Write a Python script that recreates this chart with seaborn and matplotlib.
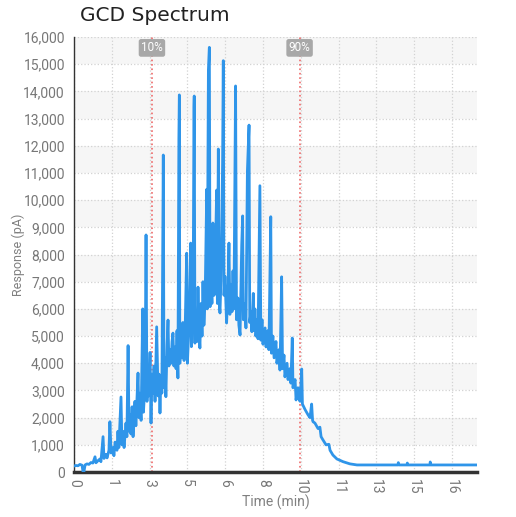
import numpy as np
import pandas as pd
import matplotlib
matplotlib.use("Agg")
import matplotlib.pyplot as plt
import seaborn as sns

# GCD trace (time in min, response in pA)
time_min = [
    0.00, 0.08, 0.17, 0.25, 0.34, 0.38, 0.42, 0.47, 0.55, 0.63, 0.72, 0.80, 0.89, 0.93,
    1.02, 1.10, 1.14, 1.23, 1.27, 1.35, 1.40, 1.48, 1.52, 1.57, 1.65, 1.69, 1.74, 1.82,
    1.86, 1.90, 1.99, 2.03, 2.07, 2.12, 2.20, 2.24, 2.29, 2.33, 2.37, 2.41, 2.46, 2.50,
    2.58, 2.62, 2.71, 2.75, 2.79, 2.84, 2.91, 2.94, 3.01, 3.05, 3.09, 3.13, 3.17, 3.22,
    3.26, 3.30, 3.34, 3.39, 3.43, 3.50, 3.56, 3.60, 3.64, 3.68, 3.72, 3.78, 3.81, 3.85,
    3.89, 3.94, 3.98, 4.02, 4.06, 4.11, 4.15, 4.19, 4.23, 4.28, 4.32, 4.36, 4.40, 4.44,
    4.46, 4.48, 4.53, 4.57, 4.61, 4.66, 4.70, 4.77, 4.80, 4.87, 4.94, 4.97, 5.04, 5.08,
    5.09, 5.12, 5.16, 5.21, 5.25, 5.29, 5.33, 5.38, 5.42, 5.46, 5.50, 5.55, 5.62, 5.64,
    5.69, 5.73, 5.76, 5.80, 5.84, 5.88, 5.93, 5.97, 6.04, 6.07, 6.11, 6.14, 6.18, 6.22,
    6.29, 6.32, 6.35, 6.39, 6.46, 6.52, 6.56, 6.60, 6.65, 6.69, 6.73, 6.77, 6.84, 6.88,
    6.94, 6.98, 7.03, 7.10, 7.14, 7.17, 7.24, 7.28, 7.34, 7.41, 7.44, 7.49, 7.53, 7.59,
    7.62, 7.66, 7.70, 7.75, 7.79, 7.87, 7.91, 7.96, 8.00, 8.09, 8.13, 8.21, 8.25, 8.33,
    8.36, 8.42, 8.47, 8.55, 8.59, 8.68, 8.72, 8.79, 8.83, 8.89, 8.93, 9.02, 9.06, 9.14,
    9.18, 9.24, 9.27, 9.36, 9.40, 9.48, 9.52, 9.57, 9.64, 9.67, 9.78, 9.91, 9.99, 10.06,
    10.10, 10.12, 10.20, 10.33, 10.41, 10.46, 10.54, 10.67, 10.79, 10.84, 10.96, 11.13,
    11.39, 11.68, 11.98, 12.53, 13.16, 13.71, 13.73, 13.76, 14.10, 14.11, 14.14, 15.07,
    15.08, 15.11, 15.92, 17.06,
]
response_pa = [
    220, 240, 230, 280, 250, 20, 10, 260, 300, 280, 350, 330, 560, 340,
    420, 480, 380, 1300, 500, 650, 520, 800, 1850, 700, 900, 600, 1100, 800,
    1500, 900, 2760, 1000, 1500, 900, 1800, 1300, 4650, 1500, 2100, 1400, 2400, 1300,
    2600, 1700, 3640, 2000, 2900, 1900, 6000, 2200, 3300, 8720, 2600, 3800, 2800, 4400,
    1800, 3600, 2900, 3900, 2600, 5340, 2800, 3600, 2170, 3500, 2900, 11660, 3100, 4200,
    2770, 4700, 5590, 3900, 4500, 4000, 4800, 5110, 3900, 4600, 3800, 5200, 3460, 12280,
    13870, 4000, 4800, 4200, 5500, 4100, 5000, 8050, 4000, 5400, 8420, 4610, 5800, 13440,
    13830, 4740, 5600, 4800, 6800, 5200, 4560, 6200, 5000, 7000, 5400, 6300, 10400, 6000,
    14790, 15620, 6080, 7200, 6200, 9160, 6500, 7300, 10370, 6200, 11880, 6300, 5850, 7000,
    11360, 15130, 6500, 7200, 5480, 6800, 8420, 5800, 6900, 5900, 7400, 6000, 14200, 5600,
    6400, 5400, 5040, 8350, 9420, 5600, 6200, 5300, 11050, 12760, 5500, 5900, 5160, 6570,
    5200, 6000, 5000, 5600, 4900, 10530, 4850, 5600, 4700, 5300, 4600, 5200, 4500, 9390,
    4370, 5000, 4200, 4800, 4000, 4500, 3750, 7180, 3800, 4300, 3500, 4000, 3400, 3800,
    3270, 4930, 3100, 3400, 2650, 3100, 2700, 2600, 3790, 2500, 2300, 2100, 2000, 2500,
    1900, 1850, 1800, 1600, 1650, 1300, 1180, 1000, 1020, 800, 625, 480,
    380, 300, 260, 260, 260, 260, 345, 260, 260, 330, 260, 260,
    370, 260, 260, 260,
]

tick_labels = ["0", "1", "3", "5", "6", "8", "10", "11", "13", "15", "16"]
marker_times = [3.30, 9.55]
marker_labels = ["10%", "90%"]

df = pd.DataFrame({"Time (min)": time_min, "Response (pA)": response_pa})

sns.set_style("white")
plt.rcParams["font.family"] = ["Roboto", "DejaVu Sans"]

fig = plt.figure(figsize=(5.16, 5.17), dpi=100)
ax = fig.add_axes([0.1434, 0.087, 0.781, 0.8414])

# alternating light bands behind the plot
for k in range(1, 16, 2):
    ax.axhspan(k * 1000, (k + 1) * 1000, color="#f6f6f6", zorder=0, lw=0)

sns.lineplot(data=df, x="Time (min)", y="Response (pA)", ax=ax, estimator=None,
             sort=False, color="#2f95e9", linewidth=2.0, zorder=3)

for t, lab in zip(marker_times, marker_labels):
    ax.axvline(t, color="#ee6a6a", linestyle=":", linewidth=1.2, zorder=2)
    ax.text(t, 15600, lab, ha="center", va="center", color="white", fontsize=8.5,
            bbox=dict(boxstyle="round,pad=0.2", fc="#a8a8a8", ec="none"), zorder=4)

ax.set_xlim(0, 17.06)
ax.set_ylim(0, 16000)
ax.set_xticks(np.arange(len(tick_labels)) * 1.6)
ax.set_xticklabels(tick_labels, rotation=270)
ax.set_yticks(np.arange(0, 16001, 1000))
ax.yaxis.set_major_formatter(matplotlib.ticker.FuncFormatter(lambda v, p: f"{int(v):,}"))

ax.grid(True, linestyle=":", color="#d2d2d2", linewidth=0.9, zorder=1)
ax.set_axisbelow(True)

for s in ["top", "right"]:
    ax.spines[s].set_visible(False)
ax.spines["left"].set_color("#333333")
ax.spines["left"].set_linewidth(1.0)
ax.spines["bottom"].set_color("#333333")
ax.spines["bottom"].set_linewidth(2.5)
ax.tick_params(axis="both", direction="inout", length=6, width=1.3, color="#333333",
               labelcolor="#777777", labelsize=10)
ax.tick_params(axis="x", pad=2)

ax.set_xlabel("Time (min)", color="#808080", fontsize=10, labelpad=0)
ax.set_ylabel("Response (pA)", color="#808080", fontsize=9, labelpad=-1)

fig.text(0.155, 0.988, "GCD Spectrum", ha="left", va="top", fontsize=14.5,
         color="#222222", family=["DejaVu Sans"])

fig.savefig("out.png", dpi=100)
